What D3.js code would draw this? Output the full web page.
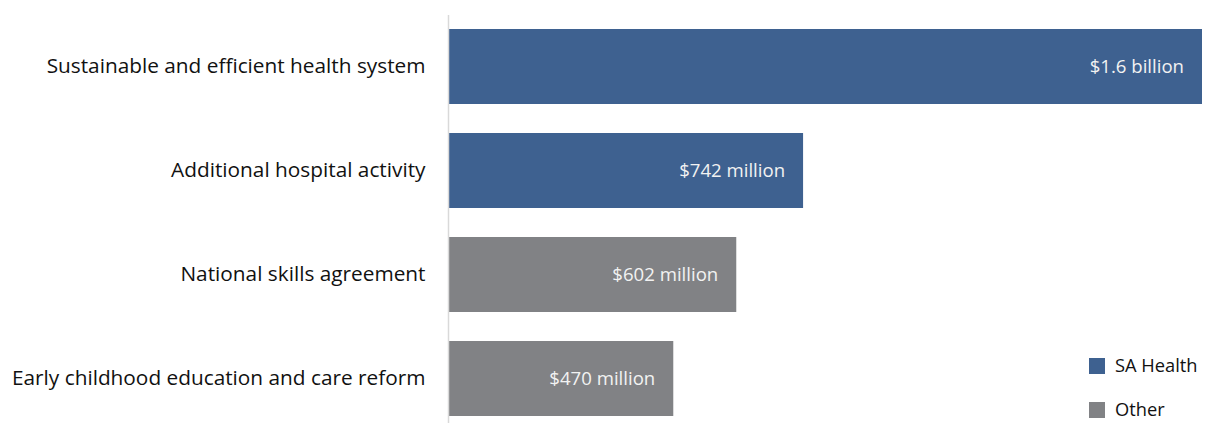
<!DOCTYPE html>
<html>
<head>
<meta charset="utf-8">
<script src="https://cdn.jsdelivr.net/npm/d3@7"></script>
<style>
  html, body { margin: 0; padding: 0; background: #fff; }
  svg { display: block; font-family: "Open Sans", Lato, sans-serif; }
</style>
</head>
<body>
<svg id="chart" width="1206" height="423"></svg>
<script>
// Funding by agreement ($ million)
const categories = [
  "Sustainable and efficient health system",
  "Additional hospital activity",
  "National skills agreement",
  "Early childhood education and care reform"
];
const values = [1578, 742, 602, 470];
const groups = ["SA Health", "SA Health", "Other", "Other"];
const legendLabels = ["SA Health", "Other"];

const colours = { "SA Health": "#3e6190", "Other": "#818285" };

const svg = d3.select("#chart");
const W = 1206, H = 423;
const margin = { left: 449, right: 4, top: 29, bottom: 8 };

const rows = categories.map((c, i) => ({ cat: c, value: values[i], group: groups[i] }));

const x = d3.scaleLinear()
  .domain([0, 1578])
  .range([margin.left, W - margin.right]);

const y = d3.scaleBand()
  .domain(categories)
  .range([margin.top - 14.5, margin.top - 14.5 + 104 * categories.length])
  .paddingInner(29 / 104)
  .paddingOuter(14.5 / 104);

const fmt = v => v >= 1000 ? `$${(v / 1000).toFixed(1)} billion` : `$${v} million`;

// bars
svg.append("g").selectAll("rect")
  .data(rows)
  .join("rect")
  .attr("x", x(0))
  .attr("y", d => y(d.cat))
  .attr("width", d => x(d.value) - x(0))
  .attr("height", y.bandwidth())
  .attr("fill", d => colours[d.group]);

// category axis
const yAxis = d3.axisLeft(y).tickSize(0).tickPadding(23);
const ag = svg.append("g")
  .attr("transform", `translate(${x(0) - 0.5},0)`)
  .call(yAxis);
ag.select(".domain").remove();
ag.append("line")
  .attr("x1", 0).attr("x2", 0)
  .attr("y1", 15).attr("y2", H)
  .attr("stroke", "#d9d9d9").attr("stroke-width", 1.5);
ag.selectAll(".tick text")
  .attr("fill", "#111")
  .style("font-size", "20.8px")
  .style("font-family", "'Open Sans', Lato, sans-serif");

// value labels inside bar ends
svg.append("g").selectAll("text")
  .data(rows)
  .join("text")
  .attr("x", d => x(d.value) - 18)
  .attr("y", d => y(d.cat) + y.bandwidth() / 2)
  .attr("dy", "0.35em")
  .attr("text-anchor", "end")
  .attr("fill", "#f2f2f2")
  .style("font-size", "18.6px")
  .text(d => fmt(d.value));

// legend
const lg = svg.append("g").attr("transform", "translate(1089,358)");
const li = lg.selectAll("g")
  .data(legendLabels)
  .join("g")
  .attr("transform", (d, i) => `translate(0,${i * 44})`);
li.append("rect")
  .attr("width", 16).attr("height", 16)
  .attr("fill", d => colours[d]);
li.append("text")
  .attr("x", 26).attr("y", 8)
  .attr("dy", "0.35em")
  .attr("fill", "#111")
  .style("font-size", "18.3px")
  .text(d => d);
</script>
</body>
</html>
